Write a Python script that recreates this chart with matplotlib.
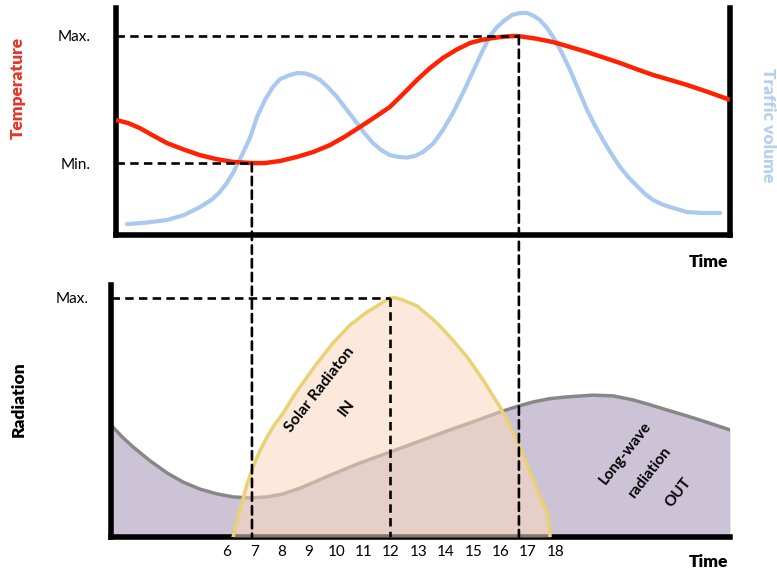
import matplotlib
matplotlib.use('Agg')
import matplotlib.pyplot as plt
from matplotlib.patches import ConnectionPatch

plt.rcParams['font.family'] = ['Lato', 'DejaVu Sans']

# 위 그래프: 기온 / 교통량 (시간, 상대값 0~100)
temp_h = [1.96, 2.40, 2.83, 3.30, 3.82, 4.40, 5.02, 5.60, 6.23, 6.92, 7.40, 7.95, 8.57,
          9.17, 9.77, 10.30, 10.87, 11.40, 11.96, 12.45, 12.95, 13.42, 13.90, 14.40,
          14.89, 15.30, 15.73, 16.15, 16.60, 17.25, 17.92, 18.55, 19.16, 19.76,
          20.36, 20.96, 21.57, 22.20, 22.81, 23.60, 24.38]
temp_v = [50.7, 49.3, 47.1, 43.9, 40.5, 37.8, 35.2, 33.5, 32.2, 31.7, 31.7, 32.6, 34.4,
          36.6, 39.6, 43.2, 47.6, 51.8, 56.4, 62.2, 68.3, 73.5, 78.0, 81.7,
          84.6, 85.9, 86.8, 87.4, 87.7, 86.6, 85.0, 82.8, 80.6, 78.2,
          75.8, 73.1, 70.5, 68.3, 66.1, 62.9, 59.5]

traffic_h = [2.36, 3.10, 3.82, 4.45, 5.02, 5.45, 5.75, 6.00, 6.23, 6.56, 6.85, 7.11,
             7.40, 7.69, 7.95, 8.31, 8.60, 8.90, 9.15, 9.41, 9.66, 10.03, 10.39,
             10.76, 11.05, 11.34, 11.65, 11.96, 12.26, 12.58, 12.88, 13.17, 13.53,
             13.90, 14.26, 14.63, 15.00, 15.36, 15.62, 15.87, 16.16, 16.42, 16.71,
             16.97, 17.22, 17.44, 17.70, 17.92, 18.23, 18.54, 18.85, 19.16, 19.45,
             19.74, 20.05, 20.36, 20.67, 20.98, 21.27, 21.57, 21.88, 22.19, 22.81,
             23.40, 24.02]
traffic_v = [4.8, 5.5, 6.6, 8.8, 12.3, 15.5, 18.9, 22.8, 27.3, 35.2, 42.7, 52.0,
             59.5, 65.2, 68.7, 70.5, 71.4, 71.1, 70.0, 68.3, 65.6, 60.8, 55.1,
             49.3, 44.6, 40.5, 37.4, 35.2, 34.4, 34.1, 34.8, 36.6, 40.1,
             46.3, 53.7, 62.6, 72.2, 81.5, 87.7, 91.6, 94.7, 96.9, 97.8,
             97.8, 96.5, 94.7, 91.2, 87.2, 80.5, 72.7, 63.9, 55.1, 48.2,
             41.9, 35.7, 30.0, 25.5, 21.6, 18.2, 15.4, 13.6, 12.3, 10.1,
             9.7, 9.7]

temp_min = (6.92, 31.7)
temp_max = (16.67, 87.7)

# 아래 그래프: 복사 (시간, 상대값 0~100)
lw_h = [1.77, 2.18, 2.58, 3.20, 3.82, 4.40, 5.02, 5.64, 6.23, 6.85, 7.47, 8.06,
        8.68, 9.28, 9.88, 10.87, 11.96, 13.06, 14.15, 15.07, 15.98, 16.60, 17.19,
        17.80, 18.43, 19.38, 20.11, 20.84, 21.45, 22.08, 22.70, 23.29, 24.38]
lw_r = [44.4, 39.7, 35.7, 30.2, 25.4, 21.8, 19.0, 17.1, 15.9, 15.5, 15.9, 17.1,
        19.4, 22.2, 25.0, 29.4, 33.7, 38.1, 42.5, 46.0, 49.6, 51.8, 53.6,
        54.9, 55.6, 56.3, 56.0, 54.4, 52.5, 50.4, 48.4, 46.4, 42.5]

solar_h = [6.23, 6.48, 6.73, 6.96, 7.20, 7.47, 7.76, 8.06, 8.42, 8.93, 9.30, 9.88,
           10.50, 11.12, 11.49, 11.75, 11.96, 12.15, 12.44, 12.95, 13.68, 14.15,
           14.78, 15.36, 15.98, 16.60, 16.89, 17.19, 17.44, 17.70, 17.77, 17.81]
solar_r = [0, 10.7, 20.6, 27.8, 34.0, 39.7, 44.8, 49.2, 55.6, 63.5, 69.0, 77.0,
           84.1, 89.3, 91.7, 93.5, 94.8, 95.0, 94.0, 91.7, 84.9, 79.4,
           71.4, 62.3, 51.6, 38.5, 30.6, 22.6, 15.9, 9.5, 4.8, 0]
solar_max = (11.96, 95.0)

hours = list(range(6, 19))

fig = plt.figure(figsize=(7.77, 5.71), dpi=100)
ax1 = fig.add_axes([116/777, 1 - 235/571, 614/777, 227/571])
ax2 = fig.add_axes([111/777, 1 - 537/571, 619/777, 252/571])

ax1.set_xlim(1.96, 24.38)
ax1.set_ylim(0, 100)
ax2.set_xlim(1.77, 24.38)
ax2.set_ylim(0, 100)

#1 위 그래프
ax1.plot(traffic_h, traffic_v, color='#a9c9f1', lw=3, solid_capstyle='round',
         solid_joinstyle='round', zorder=2)
ax1.plot(temp_h, temp_v, color='#ff2200', lw=3.2, solid_capstyle='butt',
         solid_joinstyle='round', zorder=3)

dash = (0, (3.2, 2.0))
dlw = 1.9
ax1.plot([1.96, temp_max[0]], [temp_max[1], temp_max[1]], color='k', lw=dlw, ls=dash, zorder=4)
ax1.plot([1.96, temp_min[0]], [temp_min[1], temp_min[1]], color='k', lw=dlw, ls=dash, zorder=4)

ax1.set_xticks([])
ax1.set_yticks([temp_min[1], temp_max[1]], ['Min.', 'Max.'])
ax1.tick_params(axis='y', length=0, pad=18, labelsize=11)
ax1.spines['top'].set_visible(False)
for s in ['left', 'bottom', 'right']:
    ax1.spines[s].set_linewidth(4)

#2 아래 그래프
ax2.fill_between(lw_h, lw_r, 0, color='#cdc3d7', lw=0, zorder=1)
ax2.plot(lw_h, lw_r, color='#878787', lw=2.5, solid_joinstyle='round', zorder=2)
ax2.fill_between(solar_h, solar_r, 0, color='#fbd8bf', alpha=0.55, lw=0, zorder=3)
ax2.plot(solar_h, solar_r, color='#e9d273', lw=2.5, solid_joinstyle='round', zorder=4)

ax2.plot([1.77, solar_max[0]], [solar_max[1], solar_max[1]], color='k', lw=dlw, ls=dash, zorder=5)
ax2.plot([solar_max[0], solar_max[0]], [solar_max[1], 0], color='k', lw=dlw, ls=dash, zorder=5)

ax2.set_xticks(hours, [str(h) for h in hours])
ax2.set_yticks([solar_max[1]], ['Max.'])
ax2.tick_params(axis='both', length=0, labelsize=11)
ax2.tick_params(axis='x', pad=6)
ax2.tick_params(axis='y', pad=16)
for s in ['top', 'right']:
    ax2.spines[s].set_visible(False)
for s in ['left', 'bottom']:
    ax2.spines[s].set_linewidth(4)

#3 두 그래프를 잇는 점선
for p in [temp_min, temp_max]:
    con = ConnectionPatch(xyA=p, coordsA=ax1.transData, xyB=(p[0], 0), coordsB=ax2.transData,
                          color='k', lw=dlw, ls=dash, zorder=6)
    fig.add_artist(con)

#4 글자
txt = dict(rotation=52, ha='center', va='center', rotation_mode='anchor',
           fontsize=11.5, fontweight='bold', zorder=7)
ax2.text(9.38, 58.3, 'Solar Radiaton', **txt)
ax2.text(10.39, 51.2, 'IN', **txt)
txt['fontsize'] = 11
ax2.text(20.55, 33.3, 'Long-wave', **txt)
ax2.text(21.46, 25.4, 'radiation', **txt)
ax2.text(22.48, 17.5, 'OUT', **txt)

fig.text(18/777, 1 - 88/571, 'Temperature', rotation=90, ha='center', va='center',
         color='#e8342a', fontsize=12.5, fontweight='heavy')
fig.text(768/777, 1 - 125/571, 'Traffic volume', rotation=-90, ha='center', va='center',
         color='#b5d0f0', fontsize=12.5, fontweight='heavy')
fig.text(19/777, 1 - 399/571, 'Radiation', rotation=90, ha='center', va='center',
         color='k', fontsize=12.5, fontweight='heavy')
fig.text(728/777, 1 - 262/571, 'Time', ha='right', va='center', fontsize=12.5, fontweight='heavy')
fig.text(728/777, 1 - 562/571, 'Time', ha='right', va='center', fontsize=12.5, fontweight='heavy')

plt.savefig('out.png', dpi=100)
